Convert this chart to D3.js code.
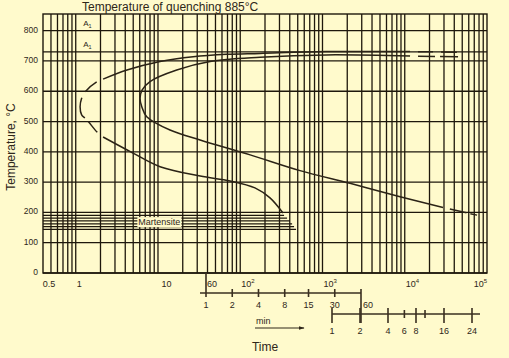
<!DOCTYPE html>
<html>
<head>
<meta charset="utf-8">
<title>Temperature of quenching 885°C</title>
<style>
  body { margin: 0; background: #fffacc; }
  svg { display: block; font-family: "Liberation Sans", Arial, sans-serif; }
  .grid line { stroke: #1e170c; stroke-width: 1.3; }
  .curve { fill: none; stroke: #2b2316; stroke-width: 1.5; }
  .tick { stroke: #3a2f20; stroke-width: 1.6; }
  text { fill: #2e2619; }
</style>
</head>
<body>
<script src="https://d3js.org/d3.v7.min.js"></script>
<script>
// temperature axis
var tempTicks = [0, 100, 200, 300, 400, 500, 600, 700, 800];
var a1Temps = [800, 730];

// time axis (seconds, log)
var timeLabelValues = [0.5, 1, 10, 1e2, 1e3, 1e4, 1e5];
var timeLabelBase = ["0.5", "1", "10", "10", "10", "10", "10"];
var timeLabelExp = ["", "", "", "2", "3", "4", "5"];

// minutes / hours helper axes
var minuteTicks = [1, 2, 4, 8, 15, 30, 60];
var hourTicks = [1, 2, 4, 6, 8, 10, 16, 24];
var hourLabelTicks = [1, 2, 4, 6, 8, 16, 24];

// martensite lines: temperature and end time (s)
var martensiteTemps = [190, 181, 172, 162, 153, 144];
var martensiteEnds = [341, 371, 403, 427, 451, 477];

// transformation start curve [time s, temp °C]
var startTop = [[11600, 731], [1105, 731], [174, 725], [68.5, 722], [26.7, 714], [10.6, 698], [4.2, 670], [2.15, 640]];
var startTopDash = [[11600, 731], [43000, 729]];
var startNose = [[2.15, 640], [1.8, 631], [1.3, 598], [1.18, 577], [1.13, 549], [1.18, 522], [1.3, 511], [1.42, 500], [1.85, 463], [2.15, 449]];
var startLow = [[2.15, 449], [4.97, 396], [10.6, 351], [32.6, 320], [75.2, 304], [151, 281], [230, 248], [331, 198]];

// transformation finish curve
var finishCurve = [[11600, 716], [1105, 720], [174, 712], [43, 698], [16.9, 670], [8.0, 632], [6.4, 604], [6.05, 577], [6.35, 549], [7.3, 516], [14.0, 472], [32.5, 439], [132, 390], [533, 338], [2160, 296], [8770, 252], [29200, 216]];
var finishTopDash = [[11600, 716], [44500, 714]];
var finishLowDash = [[29200, 216], [75700, 191]];

var W = 509, H = 358;
var plotL = 43, plotR = 487, plotT = 14, plotB = 273;

var svg = d3.select("body").append("svg")
  .attr("width", W)
  .attr("height", H);

var x = d3.scaleLog().domain([0.4, 1e5]).range([plotL, plotR]);
var y = d3.scaleLinear().domain([0, 855]).range([plotB, plotT]);
var xMin = d3.scaleLog().domain([1, 60]).range([206, 361]);
var xHour = d3.scaleLog().domain([1, 16, 24]).range([332, 444, 472]);

// log grid values
var gridX = [];
for (var e = -1; e <= 4; e++) {
  for (var m = 1; m <= 9; m++) {
    var v = m * Math.pow(10, e);
    if (v >= 0.5 && v < 1e5) gridX.push(v);
  }
}

var grid = svg.append("g").attr("class", "grid");
grid.selectAll(".vx").data(gridX).enter().append("line")
  .attr("x1", function (d) { return x(d); })
  .attr("x2", function (d) { return x(d); })
  .attr("y1", plotT).attr("y2", plotB);
grid.selectAll(".hy").data(tempTicks.concat([730])).enter().append("line")
  .attr("x1", plotL).attr("x2", plotR)
  .attr("y1", function (d) { return y(d); })
  .attr("y2", function (d) { return y(d); });

// martensite lines
grid.selectAll(".ms").data(martensiteTemps).enter().append("line")
  .attr("x1", plotL)
  .attr("x2", function (d, i) { return x(martensiteEnds[i]); })
  .attr("y1", function (d) { return y(d); })
  .attr("y2", function (d) { return y(d); });

// frame
svg.append("rect")
  .attr("x", plotL).attr("y", plotT)
  .attr("width", plotR - plotL).attr("height", plotB - plotT)
  .attr("fill", "none").attr("stroke", "#1e170c").attr("stroke-width", 1.4);

// Martensite label with background
var mLabel = svg.append("g");
var mText = mLabel.append("text")
  .attr("x", x(10.4)).attr("y", y(168) + 3)
  .attr("text-anchor", "middle")
  .attr("font-size", 9)
  .text("Martensite");
var bb = mText.node().getBBox();
mLabel.insert("rect", "text")
  .attr("x", bb.x - 1).attr("y", bb.y)
  .attr("width", bb.width + 2).attr("height", bb.height)
  .attr("fill", "#fffacc");

// curves
var line = d3.line()
  .x(function (d) { return x(d[0]); })
  .y(function (d) { return y(d[1]); })
  .curve(d3.curveCatmullRom.alpha(0.5));

svg.append("path").attr("class", "curve").attr("d", line(startTop));
svg.append("path").attr("class", "curve").attr("d", line(startLow));
svg.append("path").attr("class", "curve").attr("d", line(startNose))
  .attr("stroke-dasharray", "0,7,15,7,22,5,14,20");
svg.append("path").attr("class", "curve").attr("d", line(startTopDash))
  .attr("stroke-dasharray", "0,8,15,8,16,5");
svg.append("path").attr("class", "curve").attr("d", line(finishCurve));
svg.append("path").attr("class", "curve").attr("d", line(finishTopDash))
  .attr("stroke-dasharray", "0,8,17,5,18,5");
svg.append("path").attr("class", "curve").attr("d", line(finishLowDash))
  .attr("stroke-dasharray", "0,7,17,4,8,10");

// A1 labels
a1Temps.forEach(function (t) {
  var g = svg.append("text")
    .attr("x", x(1.23)).attr("y", y(t) - 5)
    .attr("font-size", 8);
  g.append("tspan").text("A");
  g.append("tspan").attr("font-size", 5.5).attr("dy", 2).text("1");
});

// y axis labels
svg.selectAll(".ylab").data(tempTicks).enter().append("text")
  .attr("x", 38).attr("y", function (d) { return y(d) + 2; })
  .attr("text-anchor", "end")
  .attr("font-size", 8.5)
  .text(function (d) { return d; });

// x axis labels
var xl = svg.selectAll(".xlab").data(timeLabelValues).enter().append("text")
  .attr("x", function (d, i) {
    if (i === 0) return x(d) - 2;
    if (i === timeLabelValues.length - 1) return x(d);
    return x(d) + (i === 2 ? 3.5 : 1);
  })
  .attr("y", 287)
  .attr("font-size", 9)
  .attr("text-anchor", function (d, i) {
    if (i === 0) return "middle";
    if (i === timeLabelValues.length - 1) return "end";
    return "start";
  });
xl.append("tspan").text(function (d, i) { return timeLabelBase[i]; });
xl.append("tspan").attr("font-size", 6).attr("dy", -4)
  .text(function (d, i) { return timeLabelExp[i]; });

// titles
svg.append("text").attr("x", 82).attr("y", 11)
  .attr("font-size", 12).text("Temperature of quenching 885°C");
svg.append("text")
  .attr("transform", "translate(15,147) rotate(-90)")
  .attr("text-anchor", "middle").attr("font-size", 12)
  .text("Temperature, °C");

// minutes axis
var minAxisY = 293;
svg.append("line").attr("class", "tick")
  .attr("x1", 200).attr("x2", xMin(60))
  .attr("y1", minAxisY).attr("y2", minAxisY)
  .attr("stroke-width", 2);
svg.selectAll(".mt").data(minuteTicks).enter().append("line")
  .attr("class", "tick")
  .attr("x1", function (d) { return xMin(d); })
  .attr("x2", function (d) { return xMin(d); })
  .attr("y1", function (d) { return d === 1 ? plotB : minAxisY - 4; })
  .attr("y2", function (d) { return d === 60 ? 323 : minAxisY + 4; });
svg.selectAll(".ml").data(minuteTicks).enter().append("text")
  .attr("x", function (d) { return d === 60 ? xMin(d) + 2 : xMin(d); })
  .attr("y", 308)
  .attr("font-size", 9)
  .attr("text-anchor", function (d) { return d === 60 ? "start" : "middle"; })
  .text(function (d) { return d; });
svg.append("text").attr("x", xMin(1) + 1).attr("y", 287)
  .attr("font-size", 9).text("60");

// hours axis
var hourAxisY = 314;
svg.append("line").attr("class", "tick")
  .attr("x1", xHour(1)).attr("x2", 480)
  .attr("y1", hourAxisY).attr("y2", hourAxisY);
svg.selectAll(".ht").data(hourTicks).enter().append("line")
  .attr("class", "tick")
  .attr("x1", function (d) { return xHour(d); })
  .attr("x2", function (d) { return xHour(d); })
  .attr("y1", function (d) { return (d === 6 || d === 10) ? hourAxisY - 4 : hourAxisY - 6; })
  .attr("y2", function (d) { return (d === 6 || d === 10) ? hourAxisY + 4 : hourAxisY + 9; });
svg.selectAll(".hl").data(hourLabelTicks).enter().append("text")
  .attr("x", function (d) { return xHour(d); })
  .attr("y", 334)
  .attr("font-size", 9)
  .attr("text-anchor", "middle")
  .text(function (d) { return d; });

// min arrow
svg.append("defs").append("marker")
  .attr("id", "arr").attr("viewBox", "0 0 10 10")
  .attr("refX", 9).attr("refY", 5)
  .attr("markerWidth", 6).attr("markerHeight", 6)
  .attr("orient", "auto")
  .append("path").attr("d", "M0,2L10,5L0,8Z").attr("fill", "#2e2619");
svg.append("text").attr("x", 256).attr("y", 324)
  .attr("font-size", 9).text("min");
svg.append("line")
  .attr("x1", 255).attr("x2", 304)
  .attr("y1", 328).attr("y2", 328)
  .attr("stroke", "#2e2619").attr("stroke-width", 1)
  .attr("marker-end", "url(#arr)");

svg.append("text").attr("x", 265).attr("y", 351)
  .attr("text-anchor", "middle").attr("font-size", 12)
  .text("Time");
</script>
</body>
</html>
